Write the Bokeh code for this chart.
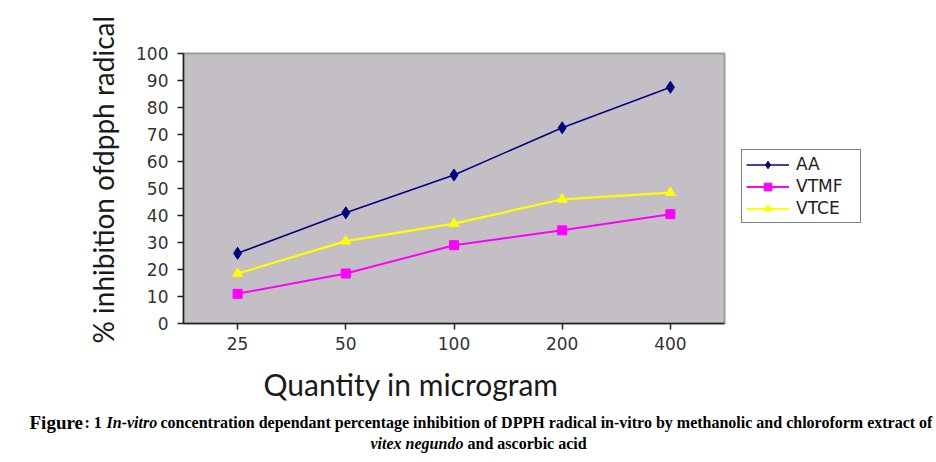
from bokeh.plotting import figure
from bokeh.models import (FactorRange, Range1d, FixedTicker, Legend, LegendItem,
                          Title, Label, ColumnDataSource)
from bokeh.embed import file_html
from bokeh.resources import INLINE

# ---- data ----
quantities = ["25", "50", "100", "200", "400"]
aa = [26, 41, 55, 72.5, 87.5]
vtmf = [11, 18.5, 29, 34.5, 40.5]
vtce = [18.5, 30.5, 37, 46, 48.5]
series_names = ["AA", "VTMF", "VTCE"]
y_ticks = [0, 10, 20, 30, 40, 50, 60, 70, 80, 90, 100]
x_title = "Quantity in microgram"
y_title = "% inhibition ofdpph radical"
caption_1 = ["Figure", ": 1", "In-vitro",
             "concentration dependant percentage inhibition of DPPH radical in-vitro by "
             "methanolic and chloroform extract of"]
caption_2 = ["vitex negundo", "and ascorbic acid"]

p = figure(frame_width=541, frame_height=270, output_backend="svg", toolbar_location=None,
           x_range=FactorRange(factors=quantities, range_padding=0),
           y_range=Range1d(0, 100))
p.min_border_left = 183
p.min_border_right = 200
p.min_border_top = 53
p.min_border_bottom = 131

p.background_fill_color = "#c3bfc5"
p.border_fill_color = "white"
p.outline_line_color = "#9c9c9c"
p.outline_line_width = 2
p.xgrid.visible = False
p.ygrid.visible = False

for ax in (p.xaxis[0], p.yaxis[0]):
    ax.axis_line_color = "#222222"
    ax.axis_line_width = 1.5
    ax.major_tick_line_color = "#222222"
    ax.major_tick_line_width = 1.5
    ax.major_tick_in = 0
    ax.major_tick_out = 6
    ax.minor_tick_line_color = None
    ax.major_label_text_font = "DejaVu Sans"
    ax.major_label_text_font_size = "17px"
    ax.major_label_text_color = "#333333"
p.yaxis.ticker = FixedTicker(ticks=y_ticks)
p.yaxis.major_label_standoff = 9
p.xaxis.major_label_standoff = 7

src = ColumnDataSource(dict(q=quantities, aa=aa, vtmf=vtmf, vtce=vtce))

l_aa = p.line("q", "aa", source=src, line_color="#000080", line_width=1.5)
m_aa = p.scatter("q", "aa", source=src, marker="diamond", size=12,
                 fill_color="#000080", line_color="#000080")
l_vt = p.line("q", "vtmf", source=src, line_color="#ff00ff", line_width=2)
m_vt = p.scatter("q", "vtmf", source=src, marker="square", size=9,
                 fill_color="#ff00ff", line_color="#ff00ff")
l_vc = p.line("q", "vtce", source=src, line_color="#ffff00", line_width=2.2)
m_vc = p.scatter("q", "vtce", source=src, marker="triangle", size=10,
                 fill_color="#ffff00", line_color="#ffff00")

legend = Legend(items=[
    LegendItem(label=series_names[0], renderers=[l_aa, m_aa]),
    LegendItem(label=series_names[1], renderers=[l_vt, m_vt]),
    LegendItem(label=series_names[2], renderers=[l_vc, m_vc]),
], location=(17, 100))
legend.border_line_color = "black"
legend.border_line_width = 1
legend.background_fill_color = "white"
legend.background_fill_alpha = 1
legend.padding = 4
legend.margin = 0
legend.spacing = 2
legend.glyph_width = 43
legend.glyph_height = 19
legend.label_height = 19
legend.label_width = 60
legend.label_standoff = 7
legend.label_text_font = "DejaVu Sans"
legend.label_text_font_size = "17px"
legend.label_text_color = "#222222"
p.add_layout(legend, "right")

# axis titles
p.add_layout(Title(text=y_title, align="left", offset=-20, standoff=27,
                   text_font="Lato", text_font_size="28px", text_font_style="normal",
                   text_color="#1a1a1a"), "left")
p.add_layout(Title(text=x_title, align="left", offset=80, standoff=22,
                   text_font="Lato", text_font_size="30px", text_font_style="normal",
                   text_color="#1a1a1a"), "below")

# caption (labels in the bottom panel; each label sits in its own stacked row,
# so its y offset compensates for the rows above it)
def cap(text, x, y, size="16px", style="bold"):
    p.add_layout(Label(x=x, y=y, x_units="screen", y_units="screen", text=text,
                       text_font="Liberation Serif", text_font_size=size,
                       text_font_style=style, text_baseline="alphabetic",
                       text_color="black"), "below")

cap(caption_1[0], 29 - 183, 11, size="19px")
cap(caption_1[1], 84 - 183, 28)
cap(caption_1[2], 106 - 183, 45, style="bold italic")
cap(caption_1[3], 160 - 183, 62)
cap(caption_2[0], 370 - 183, 58, style="bold italic")
cap(caption_2[1], 467 - 183, 75)

open("out.html", "w").write(file_html(p, INLINE))
